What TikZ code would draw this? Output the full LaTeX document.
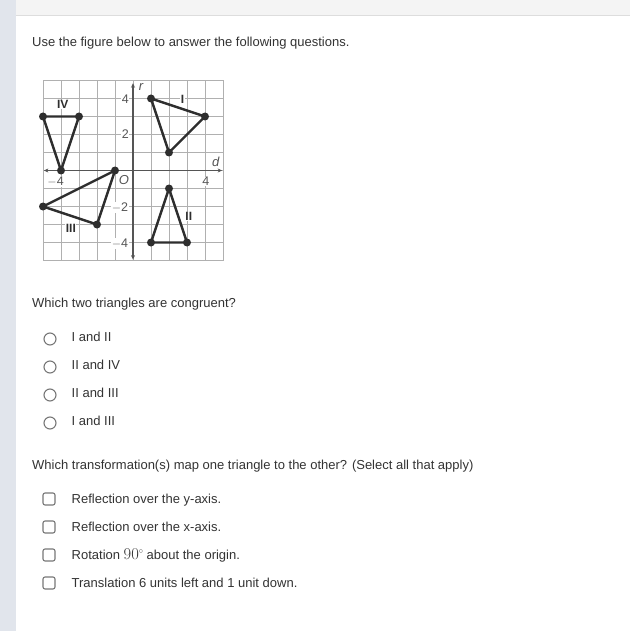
\documentclass[tikz,border=0pt]{standalone}
\usepackage{fontspec}
\setmainfont{Liberation Sans}
\usetikzlibrary{arrows.meta}
\definecolor{txt}{HTML}{333333}
\definecolor{strip}{HTML}{E1E5EC}
\definecolor{topband}{HTML}{F4F4F4}
\definecolor{topline}{HTML}{DDDDDD}
\definecolor{gridc}{HTML}{B0B0B0}
\definecolor{axisc}{HTML}{555555}
\definecolor{tri}{HTML}{2E2E2E}
\definecolor{ctrl}{HTML}{777777}
\tikzset{
  qtext/.style={anchor=base west, inner sep=0pt, text=txt, font=\fontsize{13}{15}\selectfont},
  radio/.style={circle, draw=ctrl, line width=1.1pt, minimum size=12pt, inner sep=0pt},
  chk/.style={rectangle, rounded corners=2pt, draw=ctrl, line width=1.1pt, minimum size=12pt, inner sep=0pt},
  tick/.style={text=axisc, font=\fontsize{12.5}{12}\selectfont, inner sep=0.5pt, fill=white},
  roman/.style={text=tri, font=\fontsize{12}{12}\selectfont\bfseries, inner sep=0.5pt, fill=white},
  vtx/.style={circle, fill=tri, minimum size=8pt, inner sep=0pt},
  side/.style={draw=tri, line width=2.4pt, line join=round},
  axisline/.style={draw=axisc, line width=1.3pt, {Stealth[length=4.5pt,width=4pt]}-{Stealth[length=4.5pt,width=4pt]}}
}
\begin{document}
\begin{tikzpicture}[x=1pt,y=-1pt]
\useasboundingbox (0,0) rectangle (630,631);
\fill[white] (0,0) rectangle (630,631);
\fill[topband] (16,0) rectangle (630,16);
\draw[topline, line width=1pt] (16,16) -- (630,16);
\fill[strip] (0,0) rectangle (16,631);

\node[qtext] (intro) at (32,46.5) {Use the figure below to answer the following questions.};

% ---- graph ----
\begin{scope}[shift={(133,170.5)}, x=18pt, y=18pt]
  \foreach \k in {-4,...,4} {
    \draw[gridc, line width=0.8pt] (\k,-5) -- (\k,5);
    \draw[gridc, line width=0.8pt] (-5,\k) -- (5,\k);
  }
  \draw[gridc, line width=1pt] (-5,-5) rectangle (5,5);
  \coordinate (xl) at (-4.95,0);
  \coordinate (xr) at (4.95,0);
  \coordinate (yb) at (0,-4.95);
  \coordinate (yt) at (0,4.85);
  \draw[axisline] (xl) -- (xr);
  \draw[axisline] (yb) -- (yt);
  \node[text=axisc, font=\fontsize{13}{13}\selectfont\itshape, inner sep=0pt] (rlab) at (0.45,4.65) {r};
  \node[text=axisc, font=\fontsize{13}{13}\selectfont\itshape, inner sep=0pt] (dlab) at (4.6,0.5) {d};
  \node[text=axisc, font=\fontsize{13}{13}\selectfont\itshape, inner sep=0pt] (olab) at (-0.5,-0.55) {O};
  \node[tick] (t4y) at (-0.42,3.95) {4};
  \node[tick] (t2y) at (-0.42,2) {2};
  \node[tick] (tm2y) at (-0.72,-2.05) {$-$2};
  \node[tick] (tm4y) at (-0.72,-4.05) {$-$4};
  \node[tick] (tm4x) at (-4.3,-0.62) {$-$4};
  \node[tick] (t4x) at (4.05,-0.62) {4};

  % Triangle I
  \node[vtx] (a1) at (1,4) {};
  \node[vtx] (b1) at (4,3) {};
  \node[vtx] (c1) at (2,1) {};
  \draw[side] (a1.center) -- (b1.center) -- (c1.center) -- cycle;
  % Triangle II
  \node[vtx] (a2) at (2,-1) {};
  \node[vtx] (b2) at (1,-4) {};
  \node[vtx] (c2) at (3,-4) {};
  \draw[side] (a2.center) -- (b2.center) -- (c2.center) -- cycle;
  % Triangle III
  \node[vtx] (a3) at (-1,0) {};
  \node[vtx] (b3) at (-5,-2) {};
  \node[vtx] (c3) at (-2,-3) {};
  \draw[side] (a3.center) -- (b3.center) -- (c3.center) -- cycle;
  % Triangle IV
  \node[vtx] (a4) at (-5,3) {};
  \node[vtx] (b4) at (-3,3) {};
  \node[vtx] (c4) at (-4,0) {};
  \draw[side] (a4.center) -- (b4.center) -- (c4.center) -- cycle;

  \node[roman] (lI) at (2.75,3.95) {I};
  \node[roman] (lII) at (3.1,-2.55) {II};
  \node[roman] (lIII) at (-3.45,-3.2) {III};
  \node[roman] (lIV) at (-3.9,3.65) {IV};
\end{scope}

% ---- question 1 ----
\node[qtext] (q1) at (32,307.5) {Which two triangles are congruent?};
\node[radio] (r1) at (50,339) {};
\node[radio] (r2) at (50,367) {};
\node[radio] (r3) at (50,395) {};
\node[radio] (r4) at (50,423) {};
\node[qtext] (o1) at (71.5,341.5) {I and II};
\node[qtext] (o2) at (71.5,369.5) {II and IV};
\node[qtext] (o3) at (71.5,397.5) {II and III};
\node[qtext] (o4) at (71.5,425.5) {I and III};

% ---- question 2 ----
\node[qtext] (q2) at (32,469.5) {Which transformation(s) map one triangle to the other? (Select all that apply)};
\node[chk] (c1b) at (49,499) {};
\node[chk] (c2b) at (49,527) {};
\node[chk] (c3b) at (49,555) {};
\node[chk] (c4b) at (49,583) {};
\node[qtext] (p1) at (71.5,503.5) {Reflection over the y-axis.};
\node[qtext] (p2) at (71.5,531.5) {Reflection over the x-axis.};
\node[qtext] (p3) at (71.5,559.5) {Rotation {\fontspec{Latin Modern Roman}\fontsize{16.5}{16}\selectfont 90}\raisebox{6pt}{\fontsize{8}{8}\selectfont$\circ$}\ about the origin.};
\node[qtext] (p4) at (71.5,587.5) {Translation 6 units left and 1 unit down.};
\end{tikzpicture}
\end{document}
